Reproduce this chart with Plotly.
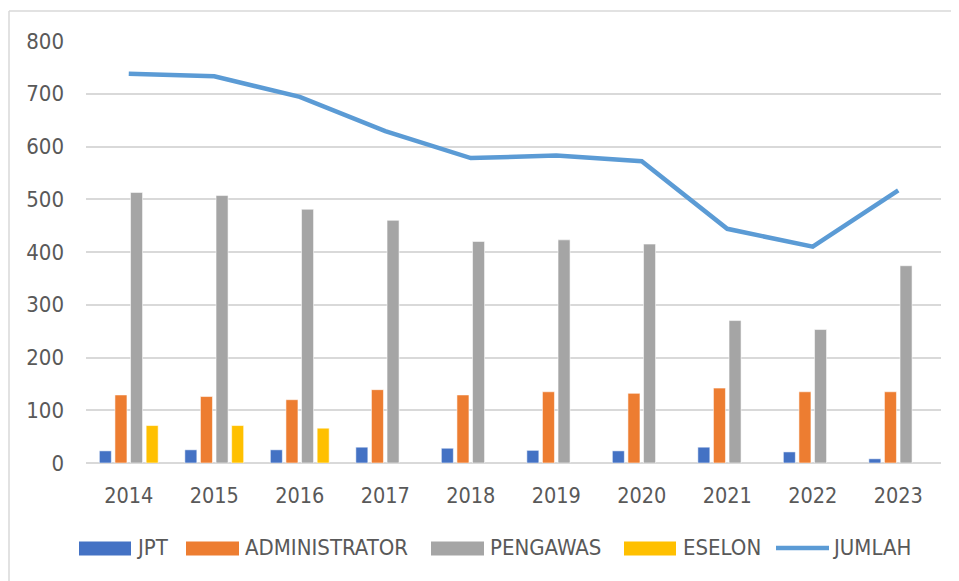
import plotly.graph_objects as go

years = ["2014", "2015", "2016", "2017", "2018", "2019", "2020", "2021", "2022", "2023"]
jpt = [23, 25, 25, 30, 28, 24, 23, 30, 21, 8]
administrator = [129, 126, 120, 139, 129, 135, 132, 142, 135, 135]
pengawas = [513, 507, 481, 460, 420, 423, 415, 270, 253, 374]
eselon = [71, 71, 66, None, None, None, None, None, None, None]
jumlah = [738, 733, 694, 629, 578, 583, 572, 444, 410, 517]

series_names = ["JPT", "ADMINISTRATOR", "PENGAWAS", "ESELON", "JUMLAH"]
colors = ["#4472C4", "#ED7D31", "#A5A5A5", "#FFC000", "#5B9BD5"]

# page body has an 8px margin, so the figure is drawn offset by 8px
OFF = 8
W, H = 959 - OFF, 581 - OFF
L, T = 86 - OFF, 41 - OFF
R = W - (941 - OFF)
B = H - (463.5 - OFF)
PW, PH = W - L - R, H - T - B


def px(x):  # page x pixel -> paper
    return (x - OFF - L) / PW


def py(y):  # page y pixel -> paper
    return (H - B - (y - OFF)) / PH


fig = go.Figure()
bar_line = dict(color="rgba(255,255,255,0.55)", width=1)
bar_series = [jpt, administrator, pengawas, eselon]
for name, vals, col in zip(series_names[:4], bar_series, colors[:4]):
    fig.add_trace(go.Bar(name=name, x=years, y=vals, marker=dict(color=col, line=bar_line)))
fig.add_trace(go.Scatter(name="JUMLAH", x=years, y=jumlah, mode="lines",
                         line=dict(color=colors[4], width=4.5)))

font_family = "DejaVu Sans Condensed, Liberation Sans Narrow, Arial Narrow, sans-serif"
text_col = "#595959"

shapes = [
    dict(type="line", xref="paper", yref="paper", x0=px(9), x1=px(960), y0=py(11), y1=py(11),
         line=dict(color="#D9D9D9", width=1.5)),
    dict(type="line", xref="paper", yref="paper", x0=px(9), x1=px(9), y0=py(11), y1=py(582),
         line=dict(color="#D9D9D9", width=1.5)),
]
annotations = []

# legend (drawn by hand to match the wide swatches)
leg_y = 548.5
boxes = [(79, 131, 134), (186, 239, 243), (431, 484, 488), (624, 676, 681)]
for (x0, x1, tx), name, col in zip(boxes, series_names[:4], colors[:4]):
    shapes.append(dict(type="rect", xref="paper", yref="paper", x0=px(x0), x1=px(x1),
                       y0=py(556), y1=py(542), fillcolor=col, line=dict(width=0)))
    annotations.append(dict(text=name, xref="paper", yref="paper", x=px(tx), y=py(leg_y),
                            xanchor="left", yanchor="middle", showarrow=False,
                            font=dict(family=font_family, size=22, color=text_col)))
shapes.append(dict(type="line", xref="paper", yref="paper", x0=px(776), x1=px(829),
                   y0=py(leg_y), y1=py(leg_y), line=dict(color=colors[4], width=4.5)))
annotations.append(dict(text="JUMLAH", xref="paper", yref="paper", x=px(830), y=py(leg_y),
                        xanchor="left", yanchor="middle", showarrow=False,
                        font=dict(family=font_family, size=22, color=text_col)))

fig.update_layout(
    width=W, height=H,
    margin=dict(l=L, r=R, t=T, b=B, autoexpand=False),
    paper_bgcolor="white", plot_bgcolor="white",
    barmode="group", bargap=0.27, bargroupgap=0.23,
    font=dict(family=font_family, size=22, color=text_col),
    showlegend=False,
    xaxis=dict(showgrid=False, showline=False, ticks="", tickfont=dict(size=21.5),
               ticklabelstandoff=17),
    yaxis=dict(range=[0, 800], dtick=100, showgrid=True, gridcolor="#D9D9D9", gridwidth=1.5,
               zeroline=True, zerolinecolor="#D9D9D9", zerolinewidth=1.5,
               showline=False, ticks="", tickfont=dict(size=22), ticklabelstandoff=21),
    shapes=shapes,
    annotations=annotations,
)

fig.write_html("out.html")
